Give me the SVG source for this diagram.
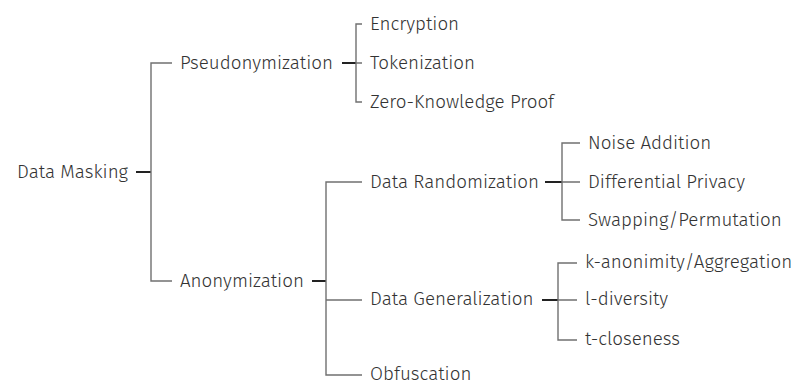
<svg xmlns="http://www.w3.org/2000/svg" width="798" height="385" viewBox="0 0 798 385">
<style>
text{font-family:"Fira Sans","Open Sans","Noto Sans",sans-serif;font-weight:300;font-size:18.8px;fill:#333}
.stub{stroke:#222;stroke-width:2;fill:none}
.br{stroke:#707070;stroke-width:1.4;fill:none}
</style>
<rect width="798" height="385" fill="#fff"/>
<g id="connectors">
<line class="stub" x1="136" y1="172" x2="151" y2="172"/>
<path class="br" d="M172 63H151V281H172"/>
<line class="stub" x1="342" y1="63" x2="356" y2="63"/>
<path class="br" d="M362 24H356V102H362M356 63H362" stroke="#444"/>
<line class="stub" x1="312" y1="281" x2="326" y2="281"/>
<path class="br" d="M362 182H326V375H362M326 300H362"/>
<line class="stub" x1="545" y1="182" x2="562" y2="182"/>
<path class="br" d="M580 143H562V220H580M562 182H580"/>
<line class="stub" x1="542" y1="300" x2="558" y2="300"/>
<path class="br" d="M577 263H558V340H577M558 300H577"/>
</g>
<g id="data-masking"><text x="17" y="178">Data Masking</text></g>
<g id="pseudonymization"><text x="180" y="69">Pseudonymization</text></g>
<g id="encryption"><text x="370" y="30">Encryption</text></g>
<g id="tokenization"><text x="370" y="69">Tokenization</text></g>
<g id="zkp"><text x="370" y="108">Zero-Knowledge Proof</text></g>
<g id="anonymization"><text x="180" y="287">Anonymization</text></g>
<g id="data-randomization"><text x="370" y="188">Data Randomization</text></g>
<g id="noise-addition"><text x="588" y="149">Noise Addition</text></g>
<g id="differential-privacy"><text x="588" y="188">Differential Privacy</text></g>
<g id="swapping"><text x="588" y="226">Swapping/Permutation</text></g>
<g id="data-generalization"><text x="370" y="305">Data Generalization</text></g>
<g id="k-anonimity"><text x="585" y="268">k-anonimity/Aggregation</text></g>
<g id="l-diversity"><text x="585" y="305">l-diversity</text></g>
<g id="t-closeness"><text x="585" y="345">t-closeness</text></g>
<g id="obfuscation"><text x="370" y="380">Obfuscation</text></g>
</svg>
